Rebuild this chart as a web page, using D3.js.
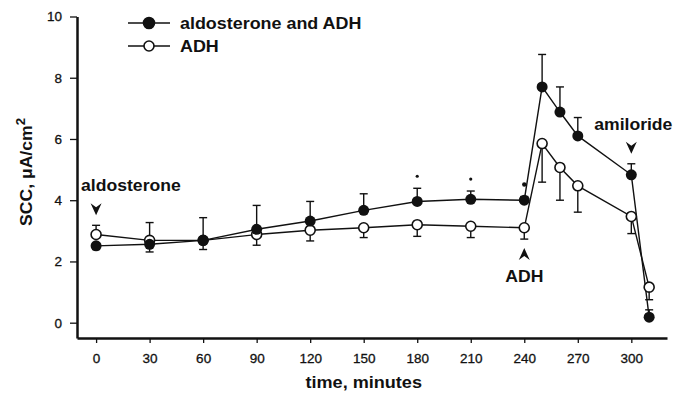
<!DOCTYPE html>
<html>
<head>
<meta charset="utf-8">
<script src="https://cdn.jsdelivr.net/npm/d3@7"></script>
<style>
  body { margin: 0; background: #fff; }
  text { font-family: "Liberation Sans", Arial, sans-serif; fill: #111; }
  .bold { font-weight: bold; font-size: 16px; }
  .tick text { font-size: 13.5px; }
</style>
</head>
<body>
<div id="chart"></div>
<script>
// time points (minutes)
const times = [0, 30, 60, 90, 120, 150, 180, 210, 240, 250, 260, 270, 300, 310];

// aldosterone and ADH (closed circles)
const closedMean = [2.51, 2.56, 2.69, 3.05, 3.32, 3.67, 3.96, 4.03, 4.0, 7.7, 6.88, 6.1, 4.83, 0.18];
const closedErrUp = [0, 0, 0.74, 0.78, 0.64, 0.54, 0.43, 0.27, 0.12, 1.06, 0.82, 0.6, 0.36, 0.24];
const closedErrDown = [0.12, 0.25, 0, 0, 0, 0, 0, 0, 0, 0, 0, 0, 0, 0];

// ADH only (open circles)
const openMean = [2.88, 2.69, 2.69, 2.88, 3.02, 3.1, 3.2, 3.15, 3.1, 5.85, 5.07, 4.47, 3.47, 1.16];
const openErrUp = [0.3, 0.58, 0, 0, 0, 0, 0, 0, 0, 0, 0, 0, 0, 0];
const openErrDown = [0, 0, 0.3, 0.35, 0.35, 0.32, 0.38, 0.37, 0.37, 1.26, 1.07, 0.86, 0.56, 0.41];

// significance marks
const starTimes = [180, 210, 240];

const xTicks = [0, 30, 60, 90, 120, 150, 180, 210, 240, 270, 300];
const yTicks = [0, 2, 4, 6, 8, 10];

// annotations: label, time, direction of arrow
const notes = [
  { label: "aldosterone", t: 0, dir: "down" },
  { label: "ADH", t: 240, dir: "up" },
  { label: "amiloride", t: 300, dir: "down" }
];

const width = 676, height = 396;
const svg = d3.select("#chart").append("svg")
  .attr("width", width).attr("height", height);

const x = d3.scaleLinear().domain([-10.7, 320]).range([77, 667]);
const y = d3.scaleLinear().domain([-0.5, 10]).range([338, 16.5]);

// axes
const yAxis = svg.append("g")
  .attr("transform", `translate(${x.range()[0]},0)`)
  .call(d3.axisLeft(y).tickValues(yTicks).tickSize(7).tickSizeOuter(0).tickPadding(8));
const xAxis = svg.append("g")
  .attr("transform", `translate(0,${y.range()[0]})`)
  .call(d3.axisBottom(x).tickValues(xTicks).tickSize(5).tickSizeOuter(0).tickPadding(10));
[yAxis, xAxis].forEach(g => {
  g.select(".domain").attr("stroke-width", 2.5).attr("stroke", "#111");
  g.selectAll(".tick line").attr("stroke-width", 1.3).attr("stroke", "#111");
  g.selectAll(".tick text").attr("fill", "#111")
    .attr("stroke", "#111").attr("stroke-width", 0.3)
    .style("font-family", "Liberation Sans, Arial, sans-serif");
});

// axis titles
svg.append("text").attr("class", "bold")
  .attr("text-anchor", "middle")
  .attr("transform", `translate(${x(150)},388) scale(1.13,1)`)
  .text("time, minutes");

const yt = svg.append("text").attr("class", "bold")
  .attr("text-anchor", "middle")
  .attr("transform", "translate(32,172) rotate(-90) scale(1.1,1)");
yt.append("tspan").text("SCC, \u03bcA/cm");
yt.append("tspan").attr("dy", -7).style("font-size", "12px").text("2");

const closed = times.map((t, i) => ({ t, v: closedMean[i], up: closedErrUp[i], dn: closedErrDown[i] }));
const open = times.map((t, i) => ({ t, v: openMean[i], up: openErrUp[i], dn: openErrDown[i] }));

const line = d3.line().x(d => x(d.t)).y(d => y(d.v));

function errorBars(data) {
  const g = svg.append("g").attr("stroke", "#111").attr("stroke-width", 1.4);
  data.forEach(d => {
    [[d.up, 1], [d.dn, -1]].forEach(([e, s]) => {
      if (e <= 0) return;
      const yEnd = y(d.v + s * e);
      g.append("line").attr("x1", x(d.t)).attr("x2", x(d.t))
        .attr("y1", y(d.v)).attr("y2", yEnd);
      g.append("line").attr("x1", x(d.t) - 4).attr("x2", x(d.t) + 4)
        .attr("y1", yEnd).attr("y2", yEnd);
    });
  });
}

errorBars(open);
errorBars(closed);

svg.append("path").datum(open).attr("d", line)
  .attr("fill", "none").attr("stroke", "#111").attr("stroke-width", 1.4);
svg.append("path").datum(closed).attr("d", line)
  .attr("fill", "none").attr("stroke", "#111").attr("stroke-width", 1.4);

svg.append("g").selectAll("circle").data(open).join("circle")
  .attr("cx", d => x(d.t)).attr("cy", d => y(d.v)).attr("r", 5)
  .attr("fill", "#fff").attr("stroke", "#111").attr("stroke-width", 1.6);
svg.append("g").selectAll("circle").data(closed).join("circle")
  .attr("cx", d => x(d.t)).attr("cy", d => y(d.v)).attr("r", 5.5)
  .attr("fill", "#111");

// asterisks above closed error bars
svg.append("g").selectAll("circle").data(starTimes).join("circle")
  .attr("cx", t => x(t))
  .attr("cy", t => { const i = times.indexOf(t); return y(closedMean[i] + closedErrUp[i]) - 12; })
  .attr("r", (t, i) => i === starTimes.length - 1 ? 2.2 : 1.6).attr("fill", "#111");

// annotation arrows and labels
const arrowDown = "M-5.5,0 L0,4 L5.5,0 L0,12 Z";
notes.forEach(n => {
  const i = times.indexOf(n.t);
  const cx = x(n.t);
  const g = svg.append("g");
  if (n.dir === "down") {
    const topVal = Math.max(closedMean[i] + closedErrUp[i], openMean[i] + openErrUp[i]);
    const tip = y(topVal) - 10;
    g.append("path").attr("d", arrowDown).attr("fill", "#111")
      .attr("transform", `translate(${cx},${tip - 12})`);
    const anchor = n.t === 0 ? "start" : "middle";
    const tx = n.t === 0 ? cx - 15 : cx + 2;
    g.append("text").attr("class", "bold").attr("text-anchor", anchor)
      .attr("transform", `translate(${tx},${tip - 24}) scale(1.1,1)`)
      .text(n.label);
  } else {
    const base = y(openMean[i] - openErrDown[i]) + 9;
    g.append("path").attr("d", arrowDown).attr("fill", "#111")
      .attr("transform", `translate(${cx},${base + 12}) scale(1,-1)`);
    g.append("text").attr("class", "bold").attr("text-anchor", "middle")
      .attr("transform", `translate(${cx},${base + 34}) scale(1.1,1)`)
      .text(n.label);
  }
});

// legend
const legend = [
  { label: "aldosterone and ADH", filled: true },
  { label: "ADH", filled: false }
];
const lg = svg.append("g");
legend.forEach((d, i) => {
  const ly = 23 + i * 23;
  lg.append("line").attr("x1", 128).attr("x2", 170).attr("y1", ly).attr("y2", ly)
    .attr("stroke", "#111").attr("stroke-width", 1.4);
  lg.append("circle").attr("cx", 149).attr("cy", ly).attr("r", d.filled ? 5.5 : 5)
    .attr("fill", d.filled ? "#111" : "#fff").attr("stroke", "#111").attr("stroke-width", 1.6);
  lg.append("text").attr("class", "bold")
    .attr("transform", `translate(180,${ly + 6}) scale(1.12,1)`)
    .text(d.label);
});
</script>
</body>
</html>
